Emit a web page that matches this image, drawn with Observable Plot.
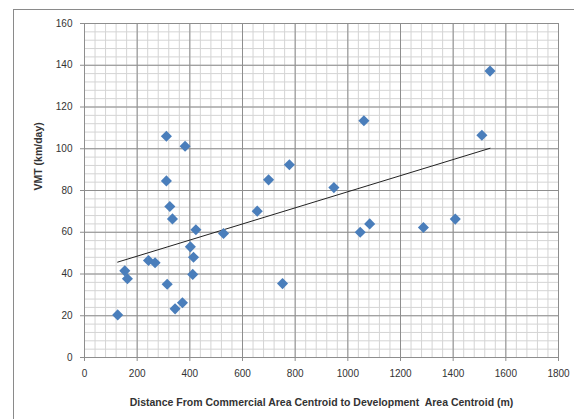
<!DOCTYPE html>
<html>
<head>
<meta charset="utf-8">
<script src="https://cdn.jsdelivr.net/npm/d3@7"></script>
<script src="https://cdn.jsdelivr.net/npm/@observablehq/plot@0.6"></script>
<style>
  html, body { margin: 0; padding: 0; background: #fff; }
  #wrap { position: relative; width: 574px; height: 419px; overflow: hidden; }
  #frame { position: absolute; left: 13px; top: 9px; width: 600px; height: 450px; border: 1px solid #8a8a8a; box-sizing: border-box; pointer-events: none; }
</style>
</head>
<body>
<div id="wrap"><div id="frame"></div></div>
<script>
// Distance from commercial area centroid to development area centroid (m)
const distance = [126, 153, 163, 243, 268, 314, 324, 334, 344, 372, 402, 414, 411, 423, 528, 656, 752,
                  311, 382, 311, 699, 778,
                  947, 1061, 1509, 1540,
                  1047, 1083, 1287, 1408];
// VMT (km/day)
const vmt = [20.4, 41.5, 37.7, 46.5, 45.4, 35.1, 72.3, 66.4, 23.3, 26.2, 53.0, 48.0, 39.8, 61.2, 59.4, 70.1, 35.4,
             106.0, 101.2, 84.6, 85.1, 92.3,
             81.4, 113.4, 106.5, 137.2,
             60.0, 64.0, 62.3, 66.3];
const xTicks = [0, 200, 400, 600, 800, 1000, 1200, 1400, 1600, 1800];
const yTicks = [0, 20, 40, 60, 80, 100, 120, 140, 160];
const xMinor = d3.range(0, 1801, 40);
const yMinor = d3.range(0, 161, 4);

const points = distance.map((d, i) => ({x: d, y: vmt[i]}));

const chart = Plot.plot({
  width: 574,
  height: 419,
  marginLeft: 84,
  marginRight: 16,
  marginTop: 23,
  marginBottom: 62,
  style: {fontFamily: "'Liberation Sans', Arial, sans-serif", fontSize: "10px", color: "#333", background: "transparent"},
  x: {domain: [0, 1800], ticks: xTicks, tickFormat: d => String(d), tickSize: 4, tickPadding: 8, label: null},
  y: {domain: [0, 160], ticks: yTicks, tickFormat: d => String(d), tickSize: 4, tickPadding: 8, label: null},
  marks: [
    Plot.ruleX(xMinor, {stroke: "#d4d4d4", strokeWidth: 1}),
    Plot.ruleY(yMinor, {stroke: "#d4d4d4", strokeWidth: 1}),
    Plot.ruleX(xTicks, {stroke: "#8e8e8e", strokeWidth: 1}),
    Plot.ruleY(yTicks, {stroke: "#8e8e8e", strokeWidth: 1}),
    Plot.ruleX([0], {stroke: "#8e8e8e"}),
    Plot.ruleY([0], {stroke: "#8e8e8e"}),
    Plot.axisX({ticks: xTicks, tickFormat: d => String(d), tickSize: 4, tickPadding: 8, stroke: "#8e8e8e", label: null}),
    Plot.axisY({ticks: yTicks, tickFormat: d => String(d), tickSize: 4, tickPadding: 8, stroke: "#8e8e8e", label: null}),
    Plot.linearRegressionY(points, {x: "x", y: "y", stroke: "#222", strokeWidth: 1, ci: 0}),
    Plot.dot(points, {x: "x", y: "y", symbol: "diamond2", r: 5, fill: "#4a7ebb", stroke: null}),
    Plot.text(["Distance From Commercial Area Centroid to Development  Area Centroid (m)"], {
      frameAnchor: "bottom", dy: 48, fontWeight: "bold", fill: "#333", fontSize: 10.5
    }),
    Plot.text(["VMT (km/day)"], {
      frameAnchor: "left", dx: -46, rotate: -90, fontWeight: "bold", fill: "#333", fontSize: 10.5
    })
  ]
});
document.getElementById("wrap").prepend(chart);
</script>
</body>
</html>
